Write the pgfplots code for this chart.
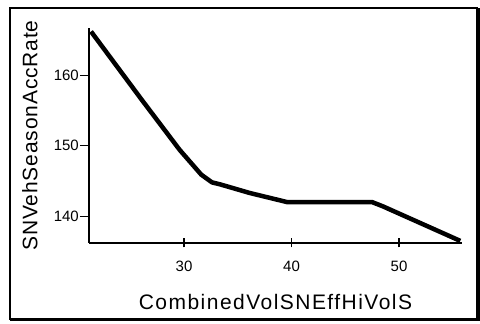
\documentclass[border=0pt]{standalone}
\usepackage{pgfplots}
\pgfplotsset{compat=1.18}
\usepackage{fontspec}
\setmainfont{Liberation Sans}
\begin{document}
\begin{tikzpicture}[x=1pt,y=1pt]
\path[use as bounding box] (0,0) rectangle (480,324);
\fill[white] (0,0) rectangle (480,324);
\draw[black,line width=1.2pt] (10,5) rectangle (477,316);
\draw[black,line width=3pt] (10,4.5) -- (478.5,4.5) -- (478.5,316);
\begin{axis}[
  at={(89pt,81pt)}, anchor=south west,
  scale only axis, width=373pt, height=215pt,
  xmin=21.16, xmax=55.86, ymin=136.2, ymax=166.7,
  axis x line=bottom, axis y line=left,
  axis line style={-, line width=1.2pt, black},
  xtick={30,40,50}, ytick={140,150,160},
  tick style={line width=1.2pt, black},
  major tick length=9pt,
  xtick align=center, ytick align=outside,
  /pgf/number format/assume math mode=true,
  tick label style={font=\fontsize{15}{18}\selectfont},
  yticklabel style={inner sep=1pt},
  xticklabel style={inner sep=1pt, yshift=-12pt},
  xlabel={CombinedVolSNEffHiVolS},
  ylabel={SNVehSeasonAccRate},
  xlabel style={font=\fontsize{21}{25}\selectfont\addfontfeatures{LetterSpace=7},
    at={(axis description cs:0.5,-0.2744)}, anchor=center},
  ylabel style={font=\fontsize{21}{25}\selectfont\addfontfeatures{LetterSpace=4},
    at={(axis description cs:-0.1582,0.5)}, anchor=center},
  clip=false,
]
\addplot[black, line width=4.5pt, line join=round] coordinates {
(21.35,166.2) (26.1,156.45) (29.6,149.4) (31.6,145.9) (32.6,144.8) (33.4,144.5)
(36.1,143.3) (39.6,142.0) (47.5,142.0) (48.5,141.4) (55.7,136.5)
};
\end{axis}
\end{tikzpicture}
\end{document}
